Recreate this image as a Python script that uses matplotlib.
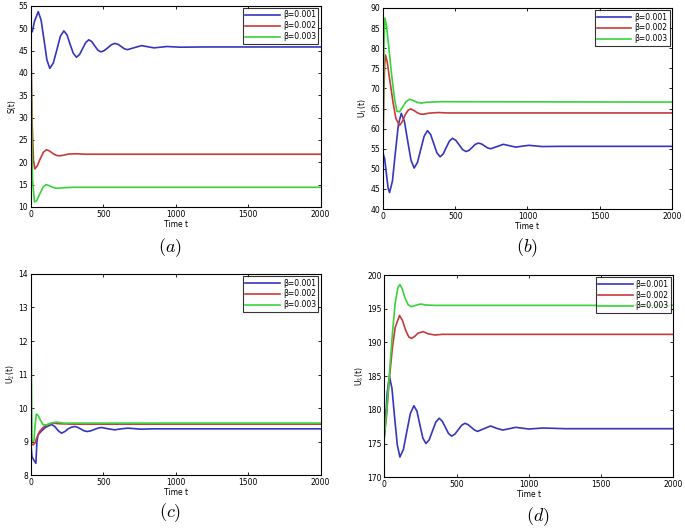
import matplotlib
matplotlib.use("Agg")
import matplotlib.pyplot as plt

labels = ["β=0.001", "β=0.002", "β=0.003"]
colors = ["#3535c0", "#c83a3a", "#3ad23a"]

# panel (a) S(t)
a_blue_t = [0, 10, 25, 51, 71, 91, 111, 131, 155, 180, 204, 228, 250, 271, 293, 315, 336, 357, 379, 400,
            421, 442, 462, 483, 507, 531, 556, 580, 602, 624, 645, 667, 715, 764, 807, 850, 895, 940, 1030, 1200, 2000]
a_blue_v = [50.0, 49.2, 51.5, 53.7, 51.8, 47.4, 42.9, 41.0, 42.2, 45.2, 48.2, 49.4, 48.5, 46.4, 44.4, 43.5, 44.1, 45.4, 46.8, 47.4,
            47.0, 46.0, 45.1, 44.7, 45.0, 45.6, 46.3, 46.6, 46.4, 45.9, 45.4, 45.2, 45.65, 46.1, 45.85, 45.6, 45.75, 45.9, 45.75, 45.8, 45.8]
a_red_t = [0, 8, 18, 28, 45, 68, 88, 108, 130, 155, 180, 200, 230, 260, 315, 380, 2000]
a_red_v = [50.0, 30.0, 20.5, 18.5, 19.2, 21.0, 22.3, 22.8, 22.5, 21.9, 21.5, 21.45, 21.6, 21.85, 21.9, 21.8, 21.8]
a_green_t = [0, 5, 12, 25, 40, 62, 84, 104, 125, 150, 175, 190, 230, 300, 2000]
a_green_v = [50.0, 30.0, 16.0, 11.1, 11.4, 12.9, 14.4, 15.0, 14.8, 14.4, 14.2, 14.2, 14.3, 14.4, 14.4]

# panel (b) U1(t)
b_blue_t = [0, 12, 25, 36, 46, 66, 86, 107, 127, 149, 171, 194, 216, 239, 262, 285, 308, 330, 352, 374, 396,
            417, 438, 460, 481, 504, 528, 551, 575, 596, 618, 639, 660, 682, 703, 725, 746, 790, 833, 876, 920,
            965, 1010, 1100, 1250, 2000]
b_blue_v = [54.0, 52.5, 48.5, 45.2, 44.1, 47.0, 54.0, 61.0, 63.8, 61.8, 57.0, 52.2, 50.2, 51.6, 54.85, 58.1, 59.5,
            58.55, 56.25, 53.95, 53.0, 53.7, 55.3, 56.9, 57.6, 57.1, 55.95, 54.8, 54.3, 54.6, 55.35, 56.1, 56.4,
            56.2, 55.7, 55.2, 55.0, 55.55, 56.1, 55.75, 55.4, 55.65, 55.85, 55.55, 55.6, 55.6]
b_red_t = [0, 6, 12, 18, 30, 50, 70, 90, 115, 135, 155, 175, 193, 215, 240, 262, 280, 320, 380, 450, 2000]
b_red_v = [54.0, 68.0, 76.0, 78.3, 76.5, 71.5, 66.5, 62.5, 60.8, 61.8, 63.5, 64.6, 64.9, 64.5, 63.9, 63.6, 63.6,
           63.85, 64.0, 63.9, 63.9]
b_green_t = [0, 4, 8, 14, 25, 40, 60, 80, 97, 115, 135, 160, 184, 210, 240, 265, 300, 400, 2000]
b_green_v = [54.0, 70.0, 82.0, 87.5, 85.5, 80.5, 73.5, 67.5, 64.3, 64.2, 65.3, 66.7, 67.3, 67.0, 66.5, 66.35,
             66.55, 66.7, 66.6]

# panel (c) U2(t)
c_blue_t = [0, 8, 20, 35, 42, 50, 70, 100, 143, 165, 190, 212, 235, 258, 282, 304, 325, 347, 368, 389, 413,
            438, 463, 488, 534, 580, 625, 670, 760, 850, 2000]
c_blue_v = [8.95, 8.55, 8.45, 8.35, 9.0, 9.2, 9.3, 9.42, 9.51, 9.45, 9.32, 9.25, 9.3, 9.38, 9.43, 9.45, 9.42,
            9.37, 9.32, 9.3, 9.32, 9.36, 9.4, 9.42, 9.38, 9.35, 9.38, 9.4, 9.37, 9.38, 9.38]
c_red_t = [0, 15, 28, 40, 60, 85, 110, 150, 200, 300, 2000]
c_red_v = [8.95, 8.9, 8.95, 9.1, 9.3, 9.42, 9.5, 9.55, 9.53, 9.52, 9.52]
c_green_t = [0, 4, 8, 15, 22, 30, 38, 50, 65, 85, 110, 140, 175, 230, 2000]
c_green_v = [13.2, 11.0, 9.05, 9.0, 9.05, 9.5, 9.82, 9.78, 9.65, 9.5, 9.5, 9.55, 9.58, 9.55, 9.55]

# panel (d) U3(t)
d_blue_t = [0, 10, 20, 35, 53, 71, 90, 108, 132, 156, 181, 205, 226, 246, 267, 288, 311, 334, 357, 380, 401,
            423, 444, 466, 489, 512, 535, 558, 580, 602, 624, 646, 690, 735, 778, 820, 865, 910, 1000, 1100,
            1250, 2000]
d_blue_v = [176.0, 179.0, 182.5, 185.0, 183.2, 179.0, 174.8, 173.0, 174.1, 176.8, 179.5, 180.6, 179.8, 177.8,
            175.8, 175.0, 175.55, 176.9, 178.2, 178.75, 178.3, 177.4, 176.5, 176.1, 176.4, 177.05, 177.7, 178.0,
            177.8, 177.4, 177.0, 176.8, 177.2, 177.6, 177.25, 177.0, 177.2, 177.4, 177.15, 177.3, 177.2, 177.2]
d_red_t = [0, 15, 35, 55, 75, 105, 125, 148, 170, 189, 210, 235, 270, 300, 350, 400, 2000]
d_red_v = [176.0, 179.0, 184.6, 189.0, 192.2, 194.0, 193.3, 191.8, 190.8, 190.6, 190.9, 191.4, 191.6, 191.3,
           191.1, 191.2, 191.2]
d_green_t = [0, 15, 35, 55, 75, 95, 108, 125, 145, 165, 185, 210, 250, 290, 350, 2000]
d_green_v = [176.0, 179.5, 185.2, 191.0, 195.8, 198.2, 198.6, 197.9, 196.5, 195.6, 195.3, 195.45, 195.7,
             195.55, 195.5, 195.5]

panels = [
    ((a_blue_t, a_blue_v), (a_red_t, a_red_v), (a_green_t, a_green_v)),
    ((b_blue_t, b_blue_v), (b_red_t, b_red_v), (b_green_t, b_green_v)),
    ((c_blue_t, c_blue_v), (c_red_t, c_red_v), (c_green_t, c_green_v)),
    ((d_blue_t, d_blue_v), (d_red_t, d_red_v), (d_green_t, d_green_v)),
]
ylabels = ["S(t)", "U$_1$(t)", "U$_2$(t)", "U$_3$(t)"]
ylims = [(10, 55), (40, 90), (8, 14), (170, 200)]
yticks = [range(10, 56, 5), range(40, 91, 5), range(8, 15, 1), range(170, 201, 5)]
captions = ["$(a)$", "$(b)$", "$(c)$", "$(d)$"]

# axes boxes in figure fractions
boxes = [
    [0.045, 0.611, 0.423, 0.378],
    [0.559, 0.607, 0.422, 0.378],
    [0.045, 0.107, 0.423, 0.378],
    [0.561, 0.103, 0.422, 0.380],
]
caption_pos = [(0.248, 0.534), (0.769, 0.534), (0.248, 0.036), (0.785, 0.028)]

plt.rcParams['mathtext.fontset'] = 'cm'
fig = plt.figure(figsize=(6.85, 5.32), dpi=100)

for i in range(4):
    ax = fig.add_axes(boxes[i])
    for (t, v), c, lab in zip(panels[i], colors, labels):
        ax.plot(t, v, color=c, lw=1.2, label=lab)
    ax.set_xlim(0, 2000)
    ax.set_ylim(*ylims[i])
    ax.set_xticks([0, 500, 1000, 1500, 2000])
    ax.set_yticks(list(yticks[i]))
    ax.tick_params(direction='in', top=True, right=True, labelsize=5.5, length=2.5, width=0.6, pad=2)
    for s in ax.spines.values():
        s.set_linewidth(0.8)
    ax.set_xlabel("Time t", fontsize=5.5, labelpad=1)
    ax.set_ylabel(ylabels[i], fontsize=5.5, labelpad=1)
    leg = ax.legend(loc='upper right', fontsize=5.5, frameon=True, fancybox=False,
                    edgecolor='black', borderaxespad=0.3, handlelength=4.5,
                    labelspacing=0.25, borderpad=0.3, handletextpad=0.4)
    leg.get_frame().set_linewidth(0.8)
    fig.text(caption_pos[i][0], caption_pos[i][1], captions[i], fontsize=13, ha='center', va='center')

fig.savefig("out.png", dpi=100)
